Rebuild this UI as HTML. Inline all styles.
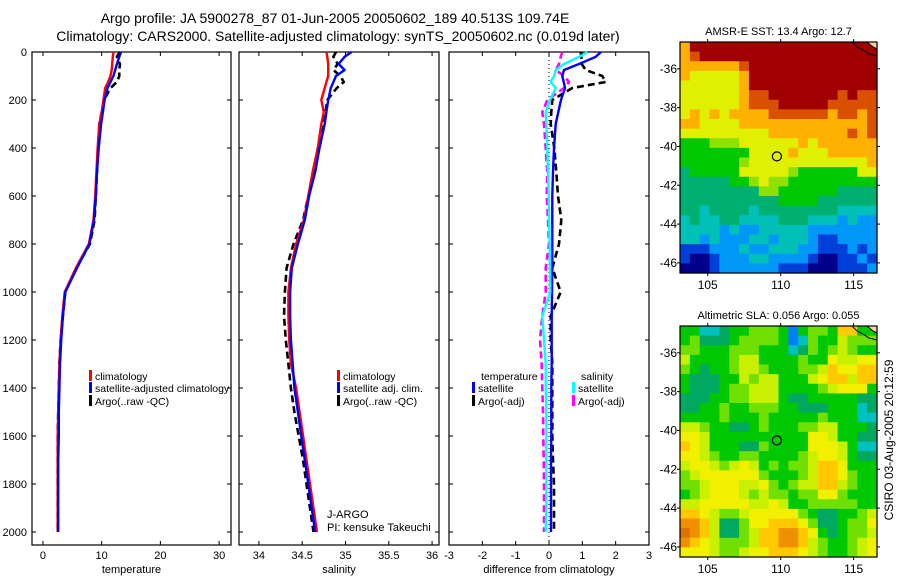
<!DOCTYPE html>
<html><head><meta charset="utf-8"><style>
html,body{margin:0;padding:0;background:#fff;}
svg{display:block;font-family:"Liberation Sans",sans-serif;}
</style></head><body>
<svg id="fig" width="900" height="580" viewBox="0 0 900 580">
<text x="335" y="23" font-size="14" text-anchor="middle">Argo profile: JA 5900278_87 01-Jun-2005 20050602_189 40.513S 109.74E</text>
<text x="338" y="41" font-size="14" text-anchor="middle">Climatology: CARS2000. Satellite-adjusted climatology: synTS_20050602.nc (0.019d later)</text>
<g id="g"></g>
</svg>
<script>
// ---- profile data ----
const depths = [0,20,50,75,100,125,150,200,250,300,400,500,600,700,800,900,1000,1100,1200,1300,1400,1500,1600,1700,1800,1900,2000];
const tempClim = [12.0,11.9,11.8,11.7,11.5,11.1,10.6,10.3,10.0,9.6,9.3,9.1,8.9,8.6,7.8,5.6,3.7,3.3,3.0,2.8,2.7,2.6,2.5,2.5,2.5,2.5,2.5];
const tempSat = [13.3,13.0,12.6,12.3,12.0,11.5,11.0,10.5,10.2,9.9,9.5,9.2,9.0,8.7,7.9,5.8,3.8,3.4,3.1,2.9,2.8,2.7,2.7,2.6,2.6,2.6,2.6];
const tempArgo = [13.1,12.6,13.1,13.0,13.0,12.6,11.5,10.4,10.0,9.6,9.4,9.2,9.0,8.8,8.0,5.7,3.8,3.4,3.0,2.8,2.7,2.6,2.5,2.5,2.5,2.5,2.5];
const salClim = [34.78,34.79,34.80,34.80,34.80,34.78,34.76,34.72,34.75,34.72,34.68,34.62,34.57,34.52,34.43,34.37,34.34,34.34,34.35,34.37,34.43,34.47,34.51,34.55,34.59,34.63,34.67];
const salSat = [35.07,34.99,34.92,34.99,34.89,34.86,34.83,34.80,34.78,34.76,34.70,34.65,34.58,34.53,34.45,34.38,34.36,34.36,34.37,34.39,34.41,34.45,34.49,34.53,34.57,34.61,34.65];
const salArgo = [34.89,34.86,34.91,34.86,34.94,34.98,34.90,34.79,34.77,34.75,34.68,34.63,34.57,34.51,34.40,34.32,34.30,34.29,34.31,34.34,34.37,34.41,34.46,34.51,34.55,34.59,34.63];
const dTempSat = [1.56,1.4,0.9,0.45,0.4,0.44,0.48,0.36,0.28,0.2,0.15,0.12,0.1,0.1,0.1,0.1,0.09,0.08,0.08,0.08,0.07,0.07,0.07,0.06,0.06,0.06,0.06];
const dTempArgo = [0.95,0.97,0.98,1.1,1.6,1.7,0.7,0.1,0.07,0.05,0.16,0.22,0.27,0.37,0.3,0.1,0.35,0.05,0.05,0.1,0.1,0.1,0.1,0.12,0.15,0.15,0.15];
const dSalSat = [1.15,0.9,0.45,0.2,0.15,0.05,0.2,0.03,-0.1,-0.08,-0.05,-0.03,-0.01,0.0,0.02,0.03,0.04,-0.2,-0.15,-0.1,-0.1,-0.08,-0.08,-0.08,-0.08,-0.08,-0.1];
const dSalArgo = [0.4,0.35,0.3,0.2,0.45,0.6,0.45,-0.05,-0.2,-0.15,-0.1,-0.05,-0.07,-0.03,0.0,-0.1,-0.1,-0.2,-0.27,-0.22,-0.2,-0.18,-0.17,-0.16,-0.15,-0.15,-0.15];
const depthTicks = [0,200,400,600,800,1000,1200,1400,1600,1800,2000];
const tempTicks = [0,10,20,30];
const salTicks = [34,34.5,35,35.5,36];
const diffTicks = [-3,-2,-1,0,1,2,3];
// ---- map data (rows top->bottom, cols west->east) ----
const sstGrid = [
"8AAAAAAAAAAAAAAAAAAA","89AAAAAAAAAAAAAAAAAA","8888889AAAAAAAAAAAAA","8777778AAAAAAAAAAAAA",
"7777778AAAAAAAAAAAAA","777777899AAAAAAA9A99","7777778999AAAAA99999","78787888899999989989",
"88777788888888888889","77777777788888888989","55566677777787888888","55555557777877788888",
"55555567777777777778","45555577777655555577","44444556766555555555","44444444665555554444",
"44444444445555444444","44344443444444443333","34334433334443332322","33332322333332222222",
"33232223323332112222","11122232233322111212","10012223322221001121","00012222221110001112"];
const slaGrid = [
"33112334443034437733","34222344443014335444","44333444333124345433","53333455333343365566",
"43233455433344576677","32223354553335677577","32223445553333456663","22233445553223333322",
"22334334443322233312","33334333433333433311","55433223433344553332","66533333333336653322",
"76533322433336665311","66543344333345665322","56654565343445776333","45666666433345776433",
"44566655643455775433","34566654544344664333","55666665565334444433","77654456666643223345",
"88752246677764223446","98752245778876323445","87654445778875433456","66654456677765433456"];
const latTicks = [-36,-38,-40,-42,-44,-46];
const lonTicks = [105,110,115];
const argoLon = 109.74, argoLat = -40.513;

const NS='http://www.w3.org/2000/svg';
const G=document.getElementById('g');
function mk(tag,attrs,parent){const e=document.createElementNS(NS,tag);for(const k in attrs)e.setAttribute(k,attrs[k]);(parent||G).appendChild(e);return e;}
function txt(x,y,s,size,anchor,parent){const t=mk('text',{x:x,y:y,'font-size':size,'text-anchor':anchor||'start'},parent);t.textContent=s;return t;}

const Y0=52, Y1=532, PB=545;
function yD(d){return Y0+(Y1-Y0)*d/2000;}
const panels=[
 {name:'temperature-panel',x0:32,x1:231,vmin:-1.87,vmax:32.03,ticks:tempTicks,label:'temperature'},
 {name:'salinity-panel',x0:239,x1:439,vmin:33.77,vmax:36.08,ticks:salTicks,label:'salinity'},
 {name:'difference-panel',x0:449,x1:649,vmin:-3,vmax:3,ticks:diffTicks,label:'difference from climatology'}];
panels.forEach(p=>{p.sx=v=>p.x0+(v-p.vmin)/(p.vmax-p.vmin)*(p.x1-p.x0);});

panels.forEach((p,i)=>{
  const g=mk('g',{});
  
  
  const r=mk('rect',{x:p.x0,y:Y0,width:p.x1-p.x0,height:PB-Y0,fill:'none',stroke:'#000','stroke-width':1.2},g);
  
  
  depthTicks.forEach(d=>{
    const y=yD(d);
    mk('line',{x1:p.x0,x2:p.x0+4,y1:y,y2:y,stroke:'#000'},g);
    mk('line',{x1:p.x1,x2:p.x1-4,y1:y,y2:y,stroke:'#000'},g);
    if(i===0){const t=txt(27,y+4,String(d),11,'end',g);
      
      }
  });
  p.ticks.forEach(v=>{
    const x=p.sx(v);
    mk('line',{x1:x,x2:x,y1:Y0,y2:Y0+4,stroke:'#000'},g);
    mk('line',{x1:x,x2:x,y1:PB,y2:PB-4,stroke:'#000'},g);
    const t=txt(x,559,String(v),11,'middle',g);
    
    
  });
  const xl=txt((p.x0+p.x1)/2,573,p.label,11,'middle',g);
  
  
});

function line(p,vals,color,dash,name,w){
  const pts=vals.map((v,k)=>p.sx(v).toFixed(1)+','+yD(depths[k]).toFixed(1)).join(' ');
  const a={points:pts,fill:'none',stroke:color,'stroke-width':w||2.4,'stroke-linejoin':'round'};
  if(dash)a['stroke-dasharray']=dash;
  const e=mk('polyline',a);
  
  
}
const [P1,P2,P3]=panels;
const zl=mk('line',{x1:P3.sx(0),x2:P3.sx(0),y1:Y0,y2:PB,stroke:'#000','stroke-width':1,'stroke-dasharray':'1,3'});


line(P1,tempArgo,'#000','7,4','temp-argo-line',2.6);
line(P1,tempClim,'#f00',null,'temp-climatology-line');
line(P1,tempSat,'#00f',null,'temp-satellite-line');
line(P2,salArgo,'#000','7,4','sal-argo-line',2.6);
line(P2,salClim,'#f00',null,'sal-climatology-line');
line(P2,salSat,'#00f',null,'sal-satellite-line');
line(P3,dTempArgo,'#000','7,4','diff-temp-argo-line',2.6);
line(P3,dSalArgo,'#f0f','7,4','diff-sal-argo-line',2.6);
line(P3,dTempSat,'#00f',null,'diff-temp-satellite-line');
line(P3,dSalSat,'#0ff',null,'diff-sal-satellite-line');

function legend(x,y,color,label){
  const g=mk('g',{});
  
  
  if(color)mk('rect',{x:x,y:y-10,width:3,height:11,fill:color},g);
  txt(x+6,y,label,10.5,'start',g);
}
legend(89,380,'#f00','climatology');
legend(89,392,'#00f','satellite-adjusted climatology');
legend(89,405,'#000','Argo(..raw -QC)');
legend(337,380,'#f00','climatology');
legend(337,392,'#00f','satellite adj. clim.');
legend(337,405,'#000','Argo(..raw -QC)');
legend(475,380,null,'temperature');
legend(472,392,'#00f','satellite');
legend(472,405,'#000','Argo(-adj)');
legend(575,380,null,'salinity');
legend(572,392,'#0ff','satellite');
legend(572,405,'#f0f','Argo(-adj)');
const j1=txt(327,518,'J-ARGO',11);
const j2=txt(327,531,'PI: kensuke Takeuchi',11);

// ---- maps ----
const sstColors={'0':'#00008c','1':'#0040d8','2':'#0098f8','3':'#00c0b8','4':'#00b070','5':'#00c800','6':'#90e000','7':'#e0f000','8':'#ffb000','9':'#d85000','A':'#a00000'};
const slaColors={'0':'#0080ff','1':'#00c0c0','2':'#00a860','3':'#00c800','4':'#70e000','5':'#c8f000','6':'#f0f000','7':'#ffc800','8':'#f09000','9':'#e07000'};
function drawMap(name,top,grid,colors,title){
  const x0=680,x1=877,y0=top,y1=top+231;
  const lonMin=103.1,lonMax=116.6;
  const latTop=-34.62,latBot=-46.52;
  const sx=l=>x0+(l-lonMin)/(lonMax-lonMin)*(x1-x0);
  const sy=l=>y0+(latTop-l)/(latTop-latBot)*(y1-y0);
  const g=mk('g',{});
  
  
  const rows=grid.length, cols=grid[0].length;
  const cw=(x1-x0)/cols, ch=(y1-y0)/rows;
  grid.forEach((row,r)=>{for(let c=0;c<cols;c++){
    const cell=mk('rect',{x:(x0+c*cw).toFixed(2),y:(y0+r*ch).toFixed(2),width:(cw+0.6).toFixed(2),height:(ch+0.6).toFixed(2),fill:colors[row[c]]},g);
    
    
  }});
  const land=mk('path',{d:`M${x1-10},${y0} L${x1},${y0} L${x1},${y0+7} L${x1-4},${y0+5} Z`,fill:'#ffd0a0',stroke:'none'},g);
  
  
  const cst=mk('path',{d:`M${x1-25},${y0} L${x1-20},${y0+5} L${x1-14},${y0+8} L${x1-8},${y0+12} L${x1},${y0+14} M${x1-10},${y0} L${x1-4},${y0+5} L${x1},${y0+7}`,fill:'none',stroke:'#000','stroke-width':1},g);
  
  
  mk('rect',{x:x0,y:y0,width:x1-x0,height:y1-y0,fill:'none',stroke:'#000','stroke-width':1.2},g);
  latTicks.forEach(l=>{const y=sy(l);
    mk('line',{x1:x0-3,x2:x0,y1:y,y2:y,stroke:'#000'},g);
    mk('line',{x1:x1,x2:x1+3,y1:y,y2:y,stroke:'#000'},g);
    const t=txt(x0-3,y+4,String(l),12,'end',g);
    });
  lonTicks.forEach(l=>{const x=sx(l);
    mk('line',{x1:x,x2:x,y1:y0-3,y2:y0,stroke:'#000'},g);
    mk('line',{x1:x,x2:x,y1:y1,y2:y1+3,stroke:'#000'},g);
    const t=txt(x,y1+16,String(l),12,'middle',g);
    });
  const ti=txt((x0+x1)/2,y0-7,title,11,'middle',g);
  
  const m=mk('circle',{cx:sx(argoLon),cy:sy(argoLat),r:4.5,fill:'none',stroke:'#000','stroke-width':1.2},g);
  
  
}
drawMap('sst-map',42,sstGrid,sstColors,'AMSR-E SST: 13.4 Argo: 12.7');
drawMap('sla-map',326,slaGrid,slaColors,'Altimetric SLA: 0.056 Argo: 0.055');
const cs=txt(0,0,'CSIRO 03-Aug-2005 20:12:59',12,'middle');
cs.setAttribute('transform','translate(893,440) rotate(-90)');


</script>
</body></html>
